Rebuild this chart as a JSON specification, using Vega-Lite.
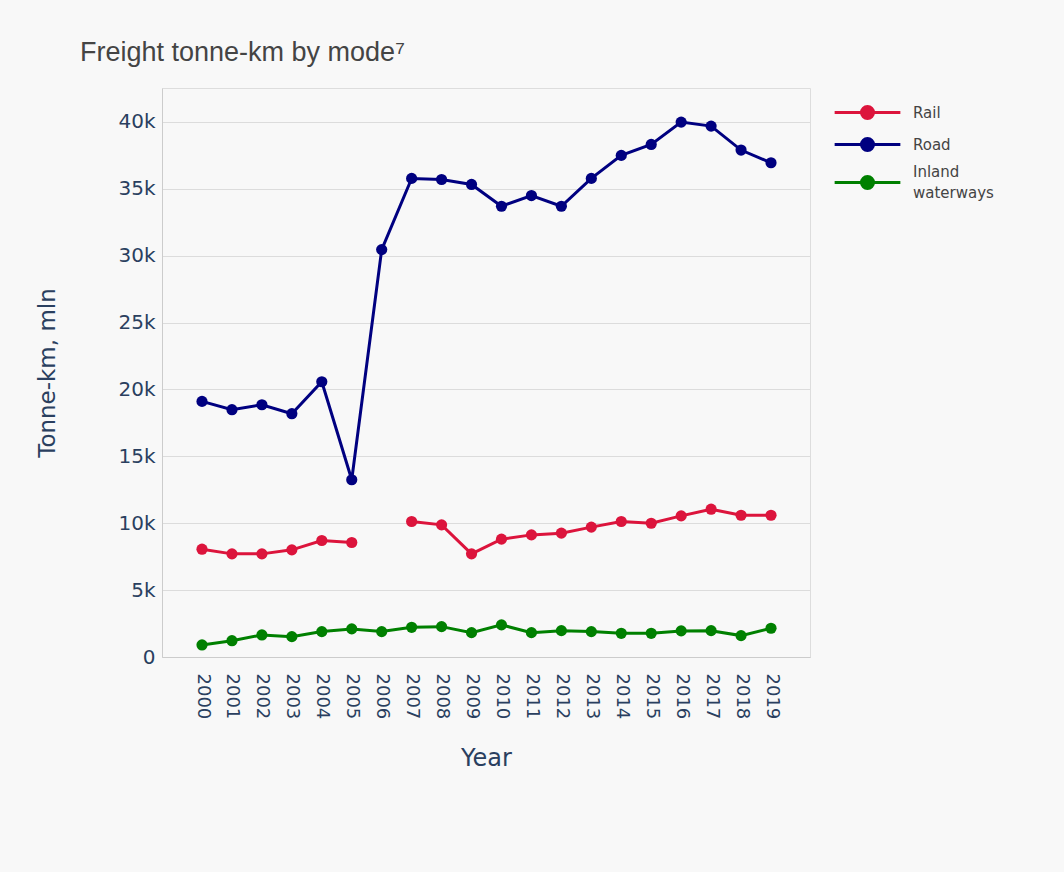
{
  "$schema": "https://vega.github.io/schema/vega-lite/v6.json",
  "width": 648,
  "height": 569,
  "autosize": {"type": "none"},
  "padding": {"left": 162, "top": 88, "right": 254, "bottom": 215},
  "background": "#f8f8f8",
  "title": {
    "text": "Freight tonne-km by mode⁷",
    "anchor": "start",
    "frame": "group",
    "dx": -82,
    "offset": 21,
    "font": "Liberation Sans",
    "fontSize": 27,
    "fontWeight": "normal",
    "color": "#444444"
  },
  "data": {
    "values": [
      {"year": 2000, "mode": "Rail", "value": 8060},
      {"year": 2001, "mode": "Rail", "value": 7710},
      {"year": 2002, "mode": "Rail", "value": 7710},
      {"year": 2003, "mode": "Rail", "value": 8010},
      {"year": 2004, "mode": "Rail", "value": 8710},
      {"year": 2005, "mode": "Rail", "value": 8560},
      {"year": 2006, "mode": "Rail", "value": null},
      {"year": 2007, "mode": "Rail", "value": 10130},
      {"year": 2008, "mode": "Rail", "value": 9880},
      {"year": 2009, "mode": "Rail", "value": 7710},
      {"year": 2010, "mode": "Rail", "value": 8810},
      {"year": 2011, "mode": "Rail", "value": 9130},
      {"year": 2012, "mode": "Rail", "value": 9260},
      {"year": 2013, "mode": "Rail", "value": 9710},
      {"year": 2014, "mode": "Rail", "value": 10130},
      {"year": 2015, "mode": "Rail", "value": 10000},
      {"year": 2016, "mode": "Rail", "value": 10550},
      {"year": 2017, "mode": "Rail", "value": 11050},
      {"year": 2018, "mode": "Rail", "value": 10600},
      {"year": 2019, "mode": "Rail", "value": 10600},
      {"year": 2000, "mode": "Road", "value": 19110},
      {"year": 2001, "mode": "Road", "value": 18490},
      {"year": 2002, "mode": "Road", "value": 18860},
      {"year": 2003, "mode": "Road", "value": 18190},
      {"year": 2004, "mode": "Road", "value": 20580},
      {"year": 2005, "mode": "Road", "value": 13250},
      {"year": 2006, "mode": "Road", "value": 30460},
      {"year": 2007, "mode": "Road", "value": 35780},
      {"year": 2008, "mode": "Road", "value": 35700},
      {"year": 2009, "mode": "Road", "value": 35330},
      {"year": 2010, "mode": "Road", "value": 33700},
      {"year": 2011, "mode": "Road", "value": 34500},
      {"year": 2012, "mode": "Road", "value": 33700},
      {"year": 2013, "mode": "Road", "value": 35780},
      {"year": 2014, "mode": "Road", "value": 37500},
      {"year": 2015, "mode": "Road", "value": 38320},
      {"year": 2016, "mode": "Road", "value": 39990},
      {"year": 2017, "mode": "Road", "value": 39690},
      {"year": 2018, "mode": "Road", "value": 37900},
      {"year": 2019, "mode": "Road", "value": 36950},
      {"year": 2000, "mode": "Inland waterways", "value": 900},
      {"year": 2001, "mode": "Inland waterways", "value": 1220},
      {"year": 2002, "mode": "Inland waterways", "value": 1650},
      {"year": 2003, "mode": "Inland waterways", "value": 1520},
      {"year": 2004, "mode": "Inland waterways", "value": 1900},
      {"year": 2005, "mode": "Inland waterways", "value": 2100},
      {"year": 2006, "mode": "Inland waterways", "value": 1900},
      {"year": 2007, "mode": "Inland waterways", "value": 2220},
      {"year": 2008, "mode": "Inland waterways", "value": 2270},
      {"year": 2009, "mode": "Inland waterways", "value": 1820},
      {"year": 2010, "mode": "Inland waterways", "value": 2400},
      {"year": 2011, "mode": "Inland waterways", "value": 1820},
      {"year": 2012, "mode": "Inland waterways", "value": 1970},
      {"year": 2013, "mode": "Inland waterways", "value": 1900},
      {"year": 2014, "mode": "Inland waterways", "value": 1770},
      {"year": 2015, "mode": "Inland waterways", "value": 1770},
      {"year": 2016, "mode": "Inland waterways", "value": 1950},
      {"year": 2017, "mode": "Inland waterways", "value": 1970},
      {"year": 2018, "mode": "Inland waterways", "value": 1600},
      {"year": 2019, "mode": "Inland waterways", "value": 2150}
    ]
  },
  "encoding": {
    "x": {
      "field": "year",
      "type": "quantitative",
      "scale": {"domain": [1998.664, 2020.302], "nice": false, "zero": false},
      "axis": {
        "title": "Year",
        "values": [2000, 2001, 2002, 2003, 2004, 2005, 2006, 2007, 2008, 2009, 2010, 2011, 2012, 2013, 2014, 2015, 2016, 2017, 2018, 2019],
        "format": "d",
        "labelAngle": 90,
        "labelAlign": "left",
        "labelBaseline": "middle",
        "labelPadding": 16,
        "labelOverlap": false,
        "labelFlush": false,
        "labelFont": "DejaVu Sans",
        "labelFontSize": 18,
        "labelColor": "#2a3f5f",
        "ticks": false,
        "domain": true,
        "domainColor": "#cccccc",
        "domainWidth": 1,
        "grid": false,
        "titleFont": "DejaVu Sans",
        "titleFontSize": 24,
        "titleFontWeight": "normal",
        "titleColor": "#2a3f5f",
        "titlePadding": 28
      }
    },
    "y": {
      "field": "value",
      "type": "quantitative",
      "scale": {"domain": [0, 42540], "nice": false, "zero": true},
      "axis": {
        "title": "Tonne-km, mln",
        "values": [0, 5000, 10000, 15000, 20000, 25000, 30000, 35000, 40000],
        "labelExpr": "datum.value == 0 ? '0' : format(datum.value / 1000, 'd') + 'k'",
        "labelFont": "DejaVu Sans",
        "labelFontSize": 20,
        "labelColor": "#2a3f5f",
        "labelPadding": 7,
        "ticks": false,
        "domain": true,
        "domainColor": "#cccccc",
        "domainWidth": 1,
        "grid": true,
        "gridColor": "#dcdcdc",
        "gridWidth": 1,
        "titleFont": "DejaVu Sans",
        "titleFontSize": 23,
        "titleFontWeight": "normal",
        "titleColor": "#2a3f5f",
        "titlePadding": 58
      }
    },
    "color": {
      "field": "mode",
      "type": "nominal",
      "scale": {
        "domain": ["Rail", "Road", "Inland waterways"],
        "range": ["#dc143c", "#000080", "#008000"]
      },
      "legend": {
        "title": null,
        "orient": "none",
        "legendX": 698,
        "legendY": 17,
        "padding": 0,
        "symbolType": "M-6,0L6,0M-1.1,0A1.1,1.1,0,1,0,1.1,0A1.1,1.1,0,1,0,-1.1,0Z",
        "symbolSize": 120,
        "symbolStrokeWidth": 3,
        "labelOffset": 38,
        "labelFont": "DejaVu Sans",
        "labelFontSize": 15,
        "labelColor": "#444444",
        "labelExpr": "datum.label == 'Inland waterways' ? ['Inland', 'waterways'] : datum.label",
        "rowPadding": 7,
        "encode": {
          "symbols": {
            "update": {
              "fill": {"scale": "color", "field": "value"},
              "stroke": {"scale": "color", "field": "value"},
              "strokeWidth": {"value": 3},
              "opacity": {"value": 1},
              "shape": {"signal": "datum.value === 'Inland waterways' ? 'M-6,2L6,2M-1.1,2A1.1,1.1,0,1,0,1.1,2A1.1,1.1,0,1,0,-1.1,2Z' : 'M-6,0L6,0M-1.1,0A1.1,1.1,0,1,0,1.1,0A1.1,1.1,0,1,0,-1.1,0Z'"}
            }
          },
          "labels": {
            "update": {
              "lineHeight": {"value": 21}
            }
          }
        }
      }
    }
  },
  "layer": [
    {"mark": {"type": "line", "strokeWidth": 3}},
    {"mark": {"type": "point", "filled": true, "size": 125, "opacity": 1}}
  ]
}
